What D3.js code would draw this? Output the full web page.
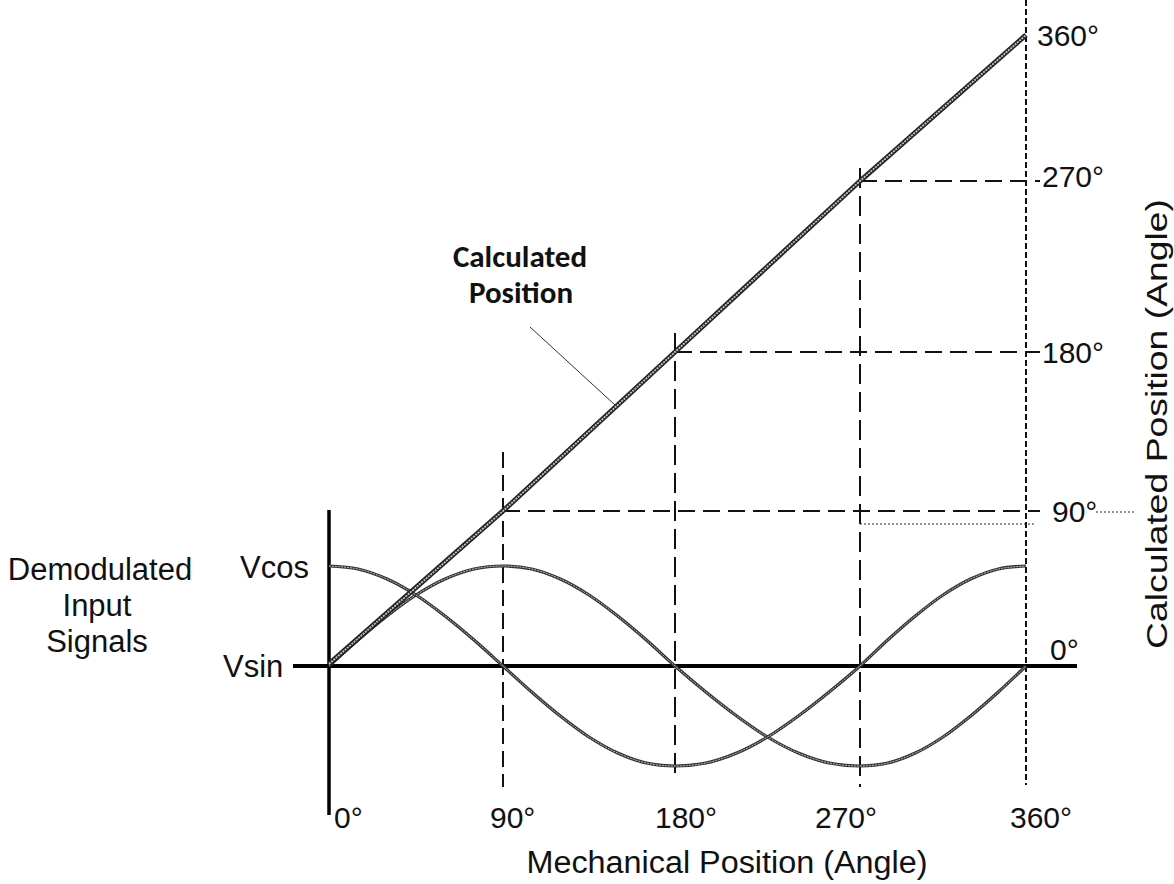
<!DOCTYPE html>
<html>
<head>
<meta charset="utf-8">
<script src="https://cdn.jsdelivr.net/npm/d3@7/dist/d3.min.js"></script>
<style>
  html, body { margin: 0; padding: 0; background: #fff; }
  svg { display: block; }
</style>
</head>
<body>
<svg id="chart" width="1174" height="884"></svg>
<script>
// ---------- data ----------
const angleTicks = [0, 90, 180, 270, 360];
const xTickLabels = ["0°", "90°", "180°", "270°", "360°"];
const yTickLabels = ["0°", "90°", "180°", "270°", "360°"];

// sampled mechanical angle (degrees)
const sampleAngles = [0,15,30,45,60,75,90,105,120,135,150,165,180,195,210,225,240,255,270,285,300,315,330,345,360];
// demodulated signals (normalised amplitude)
const vsinValues = [0,0.26,0.5,0.71,0.87,0.97,1,0.97,0.87,0.71,0.5,0.26,0,-0.26,-0.5,-0.71,-0.87,-0.97,-1,-0.97,-0.87,-0.71,-0.5,-0.26,0];
const vcosValues = [1,0.97,0.87,0.71,0.5,0.26,0,-0.26,-0.5,-0.71,-0.87,-0.97,-1,-0.97,-0.87,-0.71,-0.5,-0.26,0,0.26,0.5,0.71,0.87,0.97,1];
// calculated position vs mechanical position
const calcMech = [0, 90, 180, 270, 360];
const calcPos  = [0, 90, 180, 270, 360];
// guide angles (dashed reference lines)
const guideAngles = [90, 180, 270];

// ---------- scales ----------
const svg = d3.select("#chart");
const x = d3.scaleLinear().domain(angleTicks).range([329, 503, 675, 860, 1026]);
const yAng = d3.scaleLinear().domain(angleTicks).range([664, 511, 352, 181, 35]);
const ySig = d3.scaleLinear().domain([-1, 1]).range([766, 566]);

const FONT = "'Liberation Sans', Arial, sans-serif";

// ---------- guide lines ----------
const vTop = {90: 452, 180: 333, 270: 168};
const vBot = {90: 787, 180: 778, 270: 787};
svg.append("g").selectAll("line").data(guideAngles).join("line")
  .attr("x1", d => x(d)).attr("x2", d => x(d))
  .attr("y1", d => vTop[d]).attr("y2", d => vBot[d])
  .attr("stroke", "#111").attr("stroke-width", 2)
  .attr("stroke-dasharray", d => d === 90 ? "16,7" : "20,8");

svg.append("g").selectAll("line").data(guideAngles).join("line")
  .attr("x1", d => x(d)).attr("x2", 1040)
  .attr("y1", d => yAng(d)).attr("y2", d => yAng(d))
  .attr("stroke", "#111").attr("stroke-width", 2)
  .attr("stroke-dasharray", "17,8");

// 360° vertical fine dashed line
svg.append("line")
  .attr("x1", x(360)).attr("x2", x(360)).attr("y1", 0).attr("y2", 785)
  .attr("stroke", "#111").attr("stroke-width", 2)
  .attr("stroke-dasharray", "6,3");

// small dotted lines near 90°
svg.append("line")
  .attr("x1", x(270)).attr("x2", 1034).attr("y1", yAng(90) + 13).attr("y2", yAng(90) + 13)
  .attr("stroke", "#222").attr("stroke-width", 1.2).attr("stroke-dasharray", "2,2");
svg.append("line")
  .attr("x1", 1096).attr("x2", 1135).attr("y1", yAng(90) + 1).attr("y2", yAng(90) + 1)
  .attr("stroke", "#222").attr("stroke-width", 1.2).attr("stroke-dasharray", "2,2");

// ---------- axes ----------
svg.append("line").attr("x1", 293).attr("x2", 1077)
  .attr("y1", ySig(0)).attr("y2", ySig(0))
  .attr("stroke", "#000").attr("stroke-width", 4);
svg.append("line").attr("x1", x(0)).attr("x2", x(0))
  .attr("y1", 510).attr("y2", 815)
  .attr("stroke", "#000").attr("stroke-width", 3.5);

// ---------- signals ----------
const sigLine = vals => d3.line()
  .x((d, i) => x(sampleAngles[i]))
  .y(d => ySig(d))
  .curve(d3.curveCatmullRom.alpha(0.5))(vals);

[vsinValues, vcosValues].forEach(vals => {
  svg.append("path").attr("d", sigLine(vals)).attr("fill", "none")
    .attr("stroke", "#333").attr("stroke-width", 3.2);
  svg.append("path").attr("d", sigLine(vals)).attr("fill", "none")
    .attr("stroke", "#bbb").attr("stroke-width", 1).attr("stroke-dasharray", "2,1");
});

// ---------- calculated position ----------
const calcLine = d3.line().x((d, i) => x(calcMech[i])).y(d => yAng(d));
svg.append("path").attr("d", calcLine(calcPos)).attr("fill", "none")
  .attr("stroke", "#222").attr("stroke-width", 5);
svg.append("path").attr("d", calcLine(calcPos)).attr("fill", "none")
  .attr("stroke", "#c4c4c4").attr("stroke-width", 1.8).attr("stroke-dasharray", "2,1");

// leader line
svg.append("line").attr("x1", 530).attr("y1", 327).attr("x2", 615).attr("y2", 405)
  .attr("stroke", "#333").attr("stroke-width", 1);

// ---------- text ----------
const txt = (t, xx, yy, opts = {}) => svg.append("text")
  .attr("x", xx).attr("y", yy)
  .attr("font-family", opts.family || FONT)
  .attr("font-size", opts.size || 31)
  .attr("font-weight", opts.weight || "normal")
  .attr("text-anchor", opts.anchor || "start")
  .attr("fill", "#111")
  .text(t);

// bottom tick labels
const xLabelDx = [5, -13, -20, -45, -16];
xTickLabels.forEach((t, i) => txt(t, x(angleTicks[i]) + xLabelDx[i], 828, {size: 30}));

// right tick labels
const rLabelX = [1050, 1052, 1042, 1042, 1037];
const rLabelDy = [-4, 11, 11, 6, 11];
yTickLabels.forEach((t, i) => txt(t, rLabelX[i], yAng(angleTicks[i]) + rLabelDy[i], {size: 30}));

// left labels
txt("Demodulated", 100, 580, {anchor: "middle"});
txt("Input", 97, 616, {anchor: "middle"});
txt("Signals", 97, 652, {anchor: "middle"});
txt("Vcos", 240, 578);
txt("Vsin", 223, 677);

// axis titles
txt("Mechanical Position (Angle)", 727, 873, {anchor: "middle"})
  .attr("textLength", 401).attr("lengthAdjust", "spacingAndGlyphs");
svg.append("text")
  .attr("transform", "translate(1167,424) rotate(-90)")
  .attr("font-family", FONT).attr("font-size", 30)
  .attr("text-anchor", "middle").attr("fill", "#111")
  .attr("textLength", 450).attr("lengthAdjust", "spacingAndGlyphs")
  .text("Calculated Position (Angle)");

// callout label
txt("Calculated", 520, 267, {anchor: "middle", weight: "bold", size: 31, family: "Carlito, Lato, sans-serif"});
txt("Position", 521, 303, {anchor: "middle", weight: "bold", size: 31, family: "Carlito, Lato, sans-serif"});
</script>
</body>
</html>
